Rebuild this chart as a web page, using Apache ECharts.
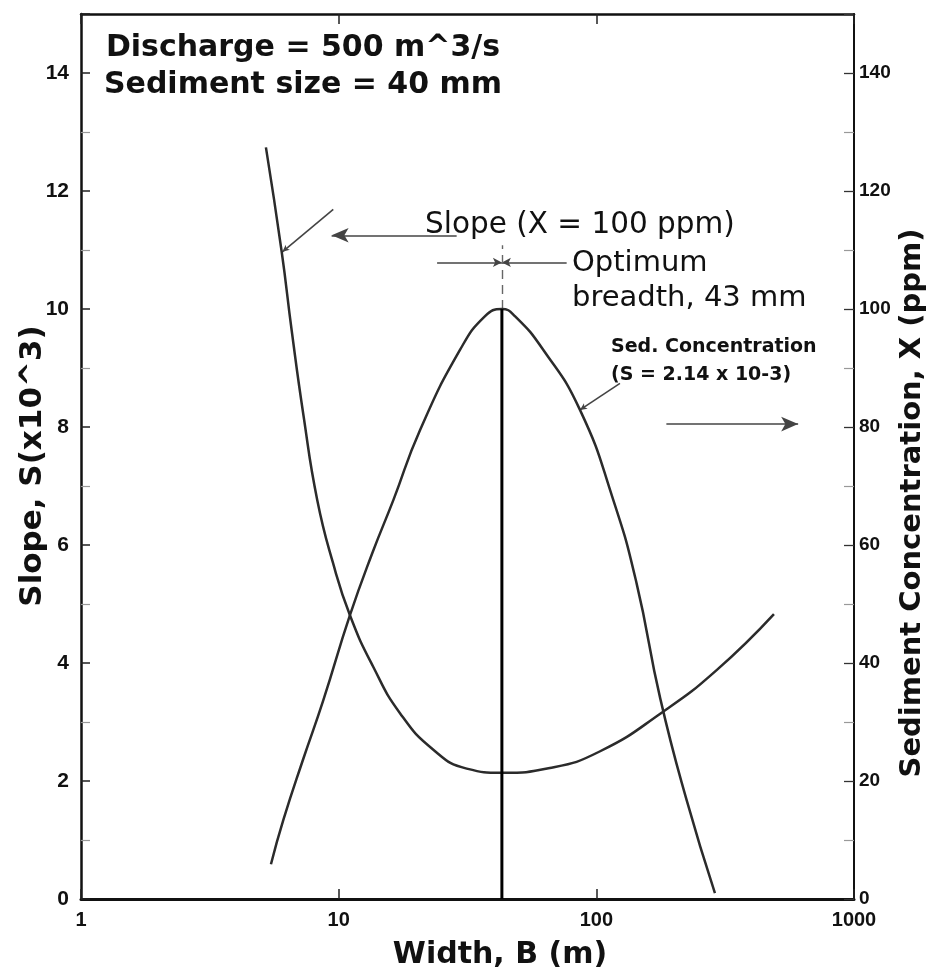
<!DOCTYPE html>
<html>
<head>
<meta charset="utf-8">
<script src="https://cdn.jsdelivr.net/npm/echarts@6/dist/echarts.min.js"></script>
<style>
  html, body { margin: 0; padding: 0; background: #fff; }
  #chart { width: 930px; height: 977px; }
</style>
</head>
<body>
<div id="chart"></div>
<script>
// Channel width (m) and slope S (x10^-3) along the slope curve
const slopeWidth = [5.22, 6.01, 6.57, 7.3, 8.26, 9.5, 11.06, 13.6, 17.3, 23.3, 31.4, 43, 66, 103, 181, 293, 489];
const slopeValue = [12.74, 10.97, 9.64, 8.2, 6.76, 5.7, 4.81, 3.94, 3.15, 2.53, 2.21, 2.14, 2.22, 2.50, 3.17, 3.88, 4.83];

// Channel width (m) and sediment concentration X (ppm)
const concWidth = [5.46, 6.1, 7.27, 8.72, 11.06, 13.5, 16.3, 20.7, 29.6, 37, 43, 48.3, 62.2, 86.4, 116.4, 143.3, 177, 224, 288.6];
const concValue = [5.9, 13.4, 23.6, 33.7, 48.1, 58.6, 67.6, 79.5, 93.1, 98.8, 100, 98.8, 93.1, 82.9, 67.6, 53.5, 34.0, 16.8, 1.0];

// Optimum breadth and the values read at it
const optimumWidth = 43;
const peakConc = 100;
const minSlope = 2.14;

// Axis ranges / tick steps
const widthRange = [1, 1000];
const slopeRange = [0, 15];
const slopeStep = 2;
const concRange = [0, 150];
const concStep = 20;

// Annotation anchors in data units (width, slope)
const slopeArrow = [[28.7, 11.25], [9.39, 11.25]];
const slopeLeader = [[9.53, 11.69], [6.05, 10.97]];
const concArrow = [[187, 8.05], [607, 8.05]];
const concLeader = [[123.5, 8.74], [86.4, 8.29]];
const dimLeft = [[24.1, 10.79], [optimumWidth, 10.79]];
const dimRight = [[76.7, 10.79], [optimumWidth, 10.79]];
const dashTop = 11.08;

const zip = (xs, ys) => xs.map((x, i) => [x, ys[i]]);
const SANS = "'DejaVu Sans', sans-serif";
const ARIAL = "'Liberation Sans', Arial, sans-serif";
const curveColor = '#2b2b2b';

const chart = echarts.init(document.getElementById('chart'), null, { renderer: 'canvas' });

const annLine = { color: '#444', width: 1.6, type: 'solid' };

function text(x, y, str, font, align, rot) {
  return {
    type: 'text', x: x, y: y, rotation: rot || 0, z: 100,
    style: { text: str, font: font, fill: '#111', align: align || 'left', verticalAlign: 'middle' }
  };
}

const xBase = {
  type: 'log', logBase: 10, min: widthRange[0], max: widthRange[1],
  axisTick: { show: true, inside: true, length: 10, lineStyle: { color: '#222', width: 1.5 } },
  splitLine: { show: false },
  minorTick: { show: false }
};

const option = {
  animation: false,
  backgroundColor: '#ffffff',
  grid: { left: 81, right: 76, top: 14, height: 885, containLabel: false },
  xAxis: [
    Object.assign({}, xBase, {
      position: 'bottom',
      axisLine: { show: true, onZero: false, lineStyle: { color: '#111', width: 3 } },
      axisLabel: {
        margin: 11, color: '#111', fontFamily: ARIAL, fontWeight: 'bold', fontSize: 20,
        formatter: v => String(Math.round(v))
      }
    }),
    Object.assign({}, xBase, {
      position: 'top',
      axisLine: { show: true, onZero: false, lineStyle: { color: '#111', width: 2.5 } },
      axisLabel: { show: false }
    })
  ],
  yAxis: [
    {
      type: 'value', min: slopeRange[0], max: slopeRange[1], interval: slopeStep, position: 'left',
      axisLine: { show: true, onZero: false, lineStyle: { color: '#111', width: 2.5 } },
      axisTick: { show: true, inside: true, length: 9, lineStyle: { color: '#222', width: 1.5 } },
      minorTick: { show: true, splitNumber: 2, length: 9, lineStyle: { color: '#999', width: 1.2 } },
      axisLabel: { margin: 12, color: '#111', fontFamily: ARIAL, fontWeight: 'bold', fontSize: 21, showMaxLabel: false },
      splitLine: { show: false }
    },
    {
      type: 'value', min: concRange[0], max: concRange[1], interval: concStep, position: 'right',
      axisLine: { show: true, onZero: false, lineStyle: { color: '#111', width: 2 } },
      axisTick: { show: true, inside: true, length: 10, lineStyle: { color: '#333', width: 1.3 } },
      minorTick: { show: true, splitNumber: 2, length: 10, lineStyle: { color: '#999', width: 1.2 } },
      axisLabel: { margin: 5, color: '#111', fontFamily: ARIAL, fontWeight: 'bold', fontSize: 19, showMaxLabel: false },
      splitLine: { show: false }
    }
  ],
  series: [
    {
      name: 'Slope', type: 'line', xAxisIndex: 0, yAxisIndex: 0,
      data: zip(slopeWidth, slopeValue), smooth: 0.5,
      showSymbol: false, symbol: 'none',
      lineStyle: { color: curveColor, width: 2.5 }, z: 5,
      markLine: {
        silent: true, animation: false, label: { show: false },
        emphasis: { disabled: true },
        lineStyle: annLine,
        data: [
          [{ coord: slopeArrow[0], symbol: 'none' }, { coord: slopeArrow[1], symbol: 'arrow', symbolSize: [11, 17] }],
          [{ coord: slopeLeader[0], symbol: 'none' }, { coord: slopeLeader[1], symbol: 'arrow', symbolSize: [5, 7] }],
          [{ coord: concArrow[0], symbol: 'none' }, { coord: concArrow[1], symbol: 'arrow', symbolSize: [11, 17] }],
          [{ coord: concLeader[0], symbol: 'none' }, { coord: concLeader[1], symbol: 'arrow', symbolSize: [5, 7] }],
          [{ coord: dimLeft[0], symbol: 'none' }, { coord: dimLeft[1], symbol: 'arrow', symbolSize: [7, 9] }],
          [{ coord: dimRight[0], symbol: 'none' }, { coord: dimRight[1], symbol: 'arrow', symbolSize: [7, 9] }],
          [{ coord: [optimumWidth, peakConc / 10], symbol: 'none', lineStyle: { type: [9, 6], color: '#666', width: 1.4 } },
           { coord: [optimumWidth, dashTop], symbol: 'none' }]
        ]
      }
    },
    {
      name: 'Sediment concentration', type: 'line', xAxisIndex: 0, yAxisIndex: 1,
      data: zip(concWidth, concValue), smooth: 0.5,
      showSymbol: false, symbol: 'none',
      lineStyle: { color: curveColor, width: 2.5 }, z: 5
    },
    {
      name: 'Optimum breadth', type: 'line', xAxisIndex: 0, yAxisIndex: 1,
      data: [[optimumWidth, concRange[0]], [optimumWidth, peakConc]],
      showSymbol: false, symbol: 'none',
      lineStyle: { color: '#000', width: 3 }, z: 6
    }
  ],
  graphic: [
    text(303, 48, 'Discharge = 500 m^3/s', 'bold 30px ' + SANS, 'center'),
    text(303, 85, 'Sediment size = 40 mm', 'bold 30px ' + SANS, 'center'),
    text(425, 225, 'Slope (X = ' + peakConc + ' ppm)', '29.5px ' + SANS),
    text(572, 263, 'Optimum', '29px ' + SANS),
    text(572, 298, 'breadth, ' + optimumWidth + ' mm', '29px ' + SANS),
    text(611, 347, 'Sed. Concentration', 'bold 19px ' + SANS),
    text(611, 375, '(S = ' + minSlope.toFixed(2) + ' x 10-3)', 'bold 19px ' + SANS),
    text(33, 466, 'Slope, S(x10^3)', 'bold 31px ' + SANS, 'center', Math.PI / 2),
    text(912, 503, 'Sediment Concentration, X (ppm)', 'bold 29px ' + SANS, 'center', Math.PI / 2),
    text(500, 955, 'Width, B (m)', 'bold 30px ' + SANS, 'center')
  ]
};

chart.setOption(option);
</script>
</body>
</html>
